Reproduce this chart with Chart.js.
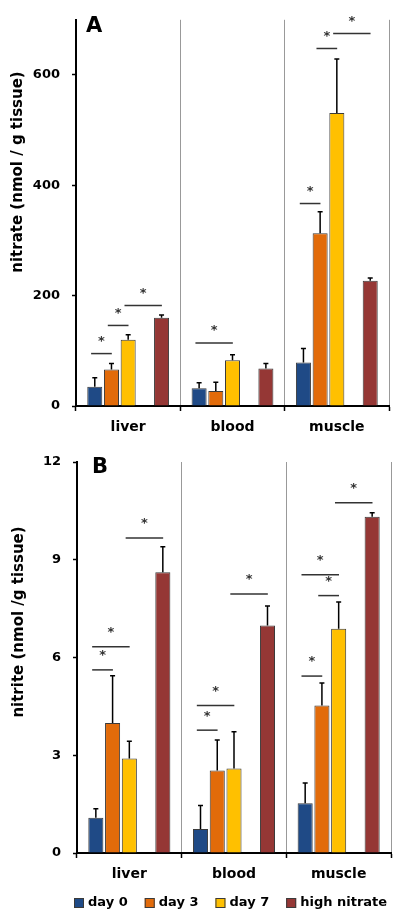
<!DOCTYPE html>
<html>
<head>
<meta charset="utf-8">
<script src="https://cdn.jsdelivr.net/npm/chart.js@4.4.1/dist/chart.umd.min.js"></script>
<style>
  body { margin: 0; background: #fff; }
  canvas { display: block; }
</style>
</head>
<body>
<canvas id="chartA" width="401" height="440"></canvas>
<canvas id="chartB" width="401" height="480"></canvas>
<script>
const categories = ['liver', 'blood', 'muscle'];
const seriesLabels = ['day 0', 'day 3', 'day 7', 'high nitrate'];
const seriesColors = ['#1F4A86', '#E26B0A', '#FFC000', '#953735'];

// panel A: nitrate (nmol / g tissue)
const nitrateDay0 = [35, 32, 79];
const nitrateDay3 = [66, 27, 313];
const nitrateDay7 = [120, 83, 531];
const nitrateHigh = [160, 68, 227];
const nitrateErrDay0 = [16, 10, 25];
const nitrateErrDay3 = [11, 16, 39];
const nitrateErrDay7 = [9, 10, 98];
const nitrateErrHigh = [5, 9, 5];
const nitrateTicks = [0, 200, 400, 600];
// [category, from series, to series, level]
const nitrateSig = [[0, 0, 1, 95], [0, 1, 2, 146], [0, 2, 3, 182], [1, 0, 2, 114],
                    [2, 0, 1, 367], [2, 1, 2, 648], [2, 2, 3, 675]];

// panel B: nitrite (nmol / g tissue)
const nitriteDay0 = [1.08, 0.74, 1.53];
const nitriteDay3 = [3.99, 2.53, 4.53];
const nitriteDay7 = [2.9, 2.59, 6.88];
const nitriteHigh = [8.62, 6.98, 10.32];
const nitriteErrDay0 = [0.28, 0.72, 0.62];
const nitriteErrDay3 = [1.45, 0.94, 0.69];
const nitriteErrDay7 = [0.53, 1.13, 0.82];
const nitriteErrHigh = [0.78, 0.6, 0.12];
const nitriteTicks = [0, 3, 6, 9, 12];
const nitriteSig = [[0, 0, 1, 5.62], [0, 0, 2, 6.33], [0, 2, 3, 9.67],
                    [1, 0, 1, 3.77], [1, 0, 2, 4.53], [1, 2, 3, 7.95],
                    [2, 0, 1, 5.43], [2, 0, 2, 8.54], [2, 1, 2, 7.9], [2, 2, 3, 10.75]];

Chart.defaults.font.family = '"DejaVu Sans", sans-serif';
Chart.defaults.font.weight = 'bold';
Chart.defaults.color = '#000';

function buildDatasets(values, errors) {
  const sets = values.map((v, i) => ({
    label: seriesLabels[i],
    data: v,
    errors: errors[i],
    backgroundColor: seriesColors[i],
    borderColor: '#3a3a3a',
    borderWidth: 1,
    categoryPercentage: 0.8,
    barPercentage: 0.9
  }));
  // empty slot between day 7 and high nitrate
  sets.splice(3, 0, { label: '', data: [null, null, null], categoryPercentage: 0.8, barPercentage: 0.9 });
  return sets;
}

function extras(p) {
  return {
    id: 'extras',
    afterDatasetsDraw(chart) {
      const ctx = chart.ctx;
      const y = chart.scales.y;
      ctx.save();
      // error bars (upper only)
      ctx.strokeStyle = '#000';
      ctx.lineWidth = 1.5;
      chart.data.datasets.forEach((ds, i) => {
        if (!ds.errors) return;
        chart.getDatasetMeta(i).data.forEach((bar, j) => {
          const top = y.getPixelForValue(ds.data[j] + ds.errors[j]);
          ctx.beginPath();
          ctx.moveTo(bar.x, bar.y);
          ctx.lineTo(bar.x, top);
          ctx.moveTo(bar.x - 2.5, top);
          ctx.lineTo(bar.x + 2.5, top);
          ctx.stroke();
        });
      });
      // significance lines
      const first = chart.getDatasetMeta(0).data;
      const last = chart.getDatasetMeta(4).data;
      const slot = s => (s === 3 ? 4 : s);
      ctx.strokeStyle = '#333';
      ctx.fillStyle = '#333';
      ctx.font = 'bold 13px "DejaVu Sans"';
      ctx.textAlign = 'center';
      ctx.textBaseline = 'middle';
      p.sig.forEach(([c, a, b, v]) => {
        const x0 = first[c].x;
        const w = (last[c].x - x0) / 4;
        const xa = x0 + (slot(a) - 0.22) * w;
        const xb = x0 + (slot(b) + 0.02) * w;
        const py = y.getPixelForValue(v);
        ctx.beginPath();
        ctx.moveTo(xa, py);
        ctx.lineTo(xb, py);
        ctx.stroke();
        ctx.fillText('*', (xa + xb) / 2, py - p.starGap);
      });
      // panel letter
      ctx.fillStyle = '#000';
      ctx.font = 'bold 21px "DejaVu Sans"';
      ctx.textAlign = 'left';
      ctx.textBaseline = 'alphabetic';
      ctx.fillText(p.letter, p.letterX, p.letterY);
      // legend row under panel B
      if (p.legend) {
        ctx.font = 'bold 13px "DejaVu Sans"';
        ctx.textBaseline = 'middle';
        ctx.lineWidth = 1;
        ctx.strokeStyle = '#3a3a3a';
        let lx = p.legendX;
        seriesLabels.forEach((name, i) => {
          ctx.fillStyle = seriesColors[i];
          ctx.fillRect(lx, p.legendY - 5, 10, 10);
          ctx.strokeRect(lx + 0.5, p.legendY - 4.5, 9, 9);
          ctx.fillStyle = '#000';
          ctx.fillText(name, lx + 14, p.legendY);
          lx += 14 + ctx.measureText(name).width + 17;
        });
      }
      // y axis title
      ctx.fillStyle = '#000';
      ctx.font = 'bold 15px "DejaVu Sans"';
      ctx.translate(p.titleX, p.titleY);
      ctx.rotate(-Math.PI / 2);
      ctx.textAlign = 'center';
      ctx.textBaseline = 'middle';
      ctx.fillText(p.title, 0, 0);
      ctx.restore();
    }
  };
}

function makeChart(id, p) {
  return new Chart(document.getElementById(id), {
    type: 'bar',
    data: { labels: categories, datasets: buildDatasets(p.values, p.errors) },
    options: {
      responsive: false,
      animation: false,
      layout: { padding: p.padding },
      plugins: {
        tooltip: { enabled: false },
        legend: { display: false }
      },
      scales: {
        x: {
          afterFit: s => { s.height = p.xHeight; },
          grid: { offset: true, color: '#999', lineWidth: 1, tickLength: 5, tickColor: '#000', tickWidth: 1.5 },
          border: { color: '#000', width: 2 },
          ticks: { font: { size: 14, weight: 'bold' }, padding: 8 }
        },
        y: {
          min: 0,
          max: p.max,
          afterFit: s => { s.width = p.yWidth; },
          afterBuildTicks: s => { s.ticks = p.ticks.map(v => ({ value: v })); },
          grid: { drawOnChartArea: false, tickLength: 4, tickColor: '#000', tickWidth: 1.5 },
          border: { color: '#000', width: 2 },
          ticks: { font: { size: 13, weight: 'bold' }, padding: 12 }
        }
      }
    },
    plugins: [extras(p)]
  });
}

makeChart('chartA', {
  values: [nitrateDay0, nitrateDay3, nitrateDay7, nitrateHigh],
  errors: [nitrateErrDay0, nitrateErrDay3, nitrateErrDay7, nitrateErrHigh],
  ticks: nitrateTicks, max: 700, sig: nitrateSig, starGap: 12,
  padding: { left: 0, top: 15, right: 12, bottom: 0 },
  xHeight: 34, yWidth: 76, legend: false,
  letter: 'A', letterX: 86, letterY: 32,
  title: 'nitrate (nmol / g tissue)', titleX: 18, titleY: 172
});

makeChart('chartB', {
  values: [nitriteDay0, nitriteDay3, nitriteDay7, nitriteHigh],
  errors: [nitriteErrDay0, nitriteErrDay3, nitriteErrDay7, nitriteErrHigh],
  ticks: nitriteTicks, max: 12, sig: nitriteSig, starGap: 14,
  padding: { left: 0, top: 22, right: 10, bottom: 36 },
  xHeight: 31, yWidth: 77, legend: true, legendX: 74, legendY: 463,
  letter: 'B', letterX: 92, letterY: 33,
  title: 'nitrite (nmol /g tissue)', titleX: 19, titleY: 182
});
</script>
</body>
</html>
